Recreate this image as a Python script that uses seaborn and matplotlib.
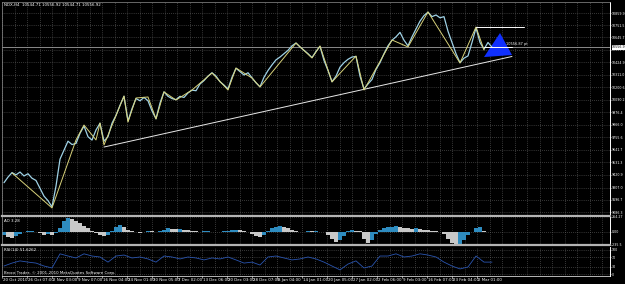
import numpy as np
import matplotlib
matplotlib.use('Agg')
import matplotlib.pyplot as plt
import matplotlib.transforms as mtransforms
import seaborn as sns

sns.set_style('dark')
plt.rcParams['font.family'] = ['DejaVu Sans']

# NDX H4 closes, one value per sampled bar
close = [9350, 9400, 9440, 9420, 9445, 9410, 9430, 9390, 9370, 9300,
         9230, 9190, 9135, 9320, 9560, 9640, 9720, 9690, 9700, 9790,
         9855, 9760, 9730, 9820, 9880, 9720, 9760, 9880, 9950, 10040,
         10120, 9900, 10010, 10100, 10080, 10110, 10080, 9990, 9920, 10060,
         10160, 10120, 10100, 10090, 10120, 10110, 10150, 10175, 10170, 10230,
         10260, 10300, 10330, 10300, 10250, 10220, 10185, 10290, 10370, 10340,
         10310, 10330, 10285, 10240, 10205, 10290, 10350, 10400, 10445, 10470,
         10500, 10530, 10570, 10595, 10560, 10530, 10500, 10465, 10520, 10565,
         10440, 10350, 10250, 10300, 10380, 10420, 10450, 10470, 10475, 10300,
         10185, 10230, 10270, 10360, 10420, 10500, 10570, 10620, 10650, 10690,
         10620, 10570, 10650, 10720, 10790, 10840, 10870, 10830, 10845, 10820,
         10830, 10700, 10600, 10500, 10420, 10460, 10480, 10600, 10730, 10600,
         10540, 10600, 10557]

# zigzag swing points
zz_bar = [2, 12, 18, 20, 23, 24, 25, 30, 31, 33, 36, 38, 40, 43, 47, 52,
          56, 58, 62, 64, 73, 77, 79, 82, 88, 90, 97, 101, 106, 114, 118, 120]
zz_price = [9437, 9125, 9731, 9864, 9731, 9882, 9686, 10123, 9891, 10105,
            10114, 9918, 10159, 10087, 10176, 10328, 10176, 10372, 10283, 10203,
            10595, 10462, 10569, 10248, 10479, 10176, 10622, 10560, 10872, 10417,
            10738, 10533]

trend_bar = [25, 127]
trend_price = [9668, 10475]
swing_high_bar = [118, 130]
swing_high = 10738
mark_bar = [120, 127]
last_price = 10556.92
tri_bar = [120, 124, 127]
tri_price = [10470, 10684, 10488]

# Awesome Oscillator
ao = [-60, -90, -110, -80, -40, -10, 10, 15, 5, -20,
      -50, -40, -60, -30, 60, 200, 255, 230, 200, 160,
      110, 60, 10, -30, -60, -80, -50, 20, 90, 125,
      90, 40, 10, -10, -20, 5, 20, 10, -5, 15,
      40, 60, 55, 45, 50, 40, 30, 15, 10, 5,
      10, 15, 5, 0, -5, 10, 20, 30, 35, 25,
      10, -10, -40, -80, -100, -60, 10, 60, 90, 95,
      80, 60, 30, 10, -5, 5, 15, 10, 20, 5,
      -10, -50, -130, -175, -150, -80, 10, 30, 20, 10,
      -120, -200, -150, -40, 40, 70, 85, 90, 100, 90,
      70, 60, 50, 60, 55, 40, 35, 20, 10, 5,
      -40, -120, -200, -230, -210, -150, -60, 0, 70, 80,
      10, -5, -10]

# RSI(14), every second bar
rsi = [34, 46, 55, 50, 46, 34, 26, 84, 75, 67, 84, 75, 71, 50, 75, 79, 67, 71, 63, 50,
       75, 71, 63, 71, 67, 59, 67, 63, 71, 59, 46, 50, 38, 71, 75, 67, 59, 63, 71, 63,
       50, 34, 18, 42, 55, 26, 34, 75, 75, 84, 71, 75, 84, 79, 71, 50, 34, 22, 30, 75,
       50, 50]

price_ticks = [10859.9, 10751.5, 10645.7, 10535.3, 10424.9, 10311.0, 10200.6, 10090.2,
               9976.4, 9866.0, 9755.6, 9641.7, 9531.3, 9420.9, 9307.0, 9196.7, 9086.3]
date_labels = ['20 Oct 2010', '26 Oct 07:00', '2 Nov 03:00', '9 Nov 07:00', '16 Nov 04:00',
               '24 Nov 01:00', '30 Nov 05:00', '7 Dec 02:00', '13 Dec 06:00', '20 Dec 03:00',
               '28 Dec 07:00', '6 Jan 04:00', '14 Jan 01:00', '20 Jan 05:00', '27 Jan 02:00',
               '2 Feb 06:00', '9 Feb 03:00', '16 Feb 07:00', '23 Feb 04:00', '2 Mar 01:00']

bars = np.arange(len(close))
rsi_bars = bars[::2]

W, H = 625, 284
fig = plt.figure(figsize=(W / 100, H / 100), dpi=100, facecolor='black')
ax1 = fig.add_axes([2 / W, 68 / H, 608 / W, 214 / H])
ax2 = fig.add_axes([2 / W, 39 / H, 608 / W, 28 / H])
ax3 = fig.add_axes([2 / W, 8 / H, 608 / W, 29 / H])

grid_x = np.arange(-0.5, 152, 3.125)
fs = 2.9
fs_axis = 2.3
for ax in (ax1, ax2, ax3):
    ax.set_facecolor('black')
    ax.set_xlim(-0.5, 151.5)
    ax.set_xticks(grid_x)
    ax.set_xticklabels([])
    ax.tick_params(axis='x', length=0)
    ax.yaxis.tick_right()
    ax.tick_params(axis='y', colors='white', labelsize=fs_axis, length=1, width=0.4, pad=0.3)
    ax.grid(True, color='#6a6a6a', linestyle=(0, (1, 2)), linewidth=0.5)
    for s in ax.spines.values():
        s.set_color('#909090')
        s.set_linewidth(0.5)
    ax.spines['right'].set_color('white')
    ax.spines['right'].set_linewidth(0.7)
    ax.set_xlabel('')
    ax.set_ylabel('')

# price panel
ax1.set_ylim(9053.2, 10960.6)
ax1.set_yticks(price_ticks)
ax1.set_yticklabels([f'{v:.1f}' for v in price_ticks])
ax1.spines['bottom'].set_color('#b4b4b4')
ax1.spines['bottom'].set_linewidth(1.6)
ax1.axhline(last_price, color='#a0a0a0', lw=0.6)
sns.lineplot(x=trend_bar, y=trend_price, ax=ax1, color='#e8e8e8', lw=0.7)
sns.lineplot(x=bars, y=close, ax=ax1, color='#9fd2e6', lw=0.9)
sns.lineplot(x=zz_bar, y=zz_price, ax=ax1, color='#d8d27a', lw=0.7, sort=False)
ax1.plot(swing_high_bar, [swing_high, swing_high], color='white', lw=0.7)
ax1.plot(mark_bar, [last_price, last_price], color='white', lw=0.7)
ax1.fill(tri_bar, tri_price, color='#1030ff', lw=0)
ax1.text(mark_bar[1] - 1.5, last_price + 15, '10556.87 pt', color='white', fontsize=2.5,
         va='bottom', ha='left')
tr = mtransforms.blended_transform_factory(ax1.transAxes, ax1.transData)
ax1.text(1.003, last_price, f'{last_price:.1f}', transform=tr, fontsize=fs_axis, color='black',
         va='center', ha='left',
         bbox=dict(boxstyle='square,pad=0.1', fc='white', ec='none'))
ax1.text(0.003, 0.993, 'NDX,H4  10544.71 10556.92 10544.71 10556.92', transform=ax1.transAxes,
         fontsize=fs, color='white', va='top', ha='left')

# AO panel
ao_arr = np.array(ao)
rising = np.r_[True, ao_arr[1:] >= ao_arr[:-1]]
ao_colors = np.where(rising, '#2e8cc0', '#c8c8c8')
ax2.bar(bars, ao_arr, width=1.0, color=ao_colors, linewidth=0)
ax2.set_ylim(-235.5, 264.27)
ax2.set_yticks([264.27, 0, -235.5])
ax2.set_yticklabels(['264.27', '0.00', '-235.5'])
ax2.spines['top'].set_visible(False)
ax2.spines['bottom'].set_color('#b4b4b4')
ax2.spines['bottom'].set_linewidth(1.6)
ax2.text(0.003, 0.93, 'AO 3.28', transform=ax2.transAxes, fontsize=fs, color='white',
         va='top', ha='left')

# RSI panel
sns.lineplot(x=rsi_bars, y=rsi, ax=ax3, color='#2a55b0', lw=0.6)
ax3.set_ylim(-7, 112)
ax3.set_yticks([100, 70, 30, 0])
ax3.set_yticklabels(['100', '70', '30', '0'])
ax3.spines['top'].set_visible(False)
ax3.spines['bottom'].set_color('white')
ax3.text(0.003, 0.95, 'RSI(14) 51.6262', transform=ax3.transAxes, fontsize=fs, color='white',
         va='top', ha='left')
ax3.text(0.003, 0.03, 'Broco Trader, © 2001-2010 MetaQuotes Software Corp.',
         transform=ax3.transAxes, fontsize=fs, color='white', va='bottom', ha='left')

trd = mtransforms.blended_transform_factory(ax3.transData, ax3.transAxes)
for k, lab in enumerate(date_labels):
    pos = -0.5 + 6.25 * k
    ax3.plot([pos, pos], [0, -0.08], transform=trd, color='white', lw=0.4, clip_on=False)
    ax3.text(pos + 0.3, -0.06, lab, transform=trd, fontsize=fs, color='white',
             va='top', ha='left')

fig.savefig('out.png', dpi=100, facecolor='black')
